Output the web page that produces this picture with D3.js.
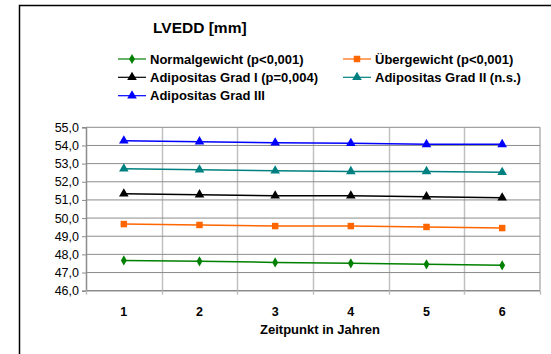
<!DOCTYPE html>
<html>
<head>
<meta charset="utf-8">
<script src="https://cdn.jsdelivr.net/npm/d3@7"></script>
<style>
  html, body { margin: 0; padding: 0; background: #fff; }
  svg { display: block; font-family: "Liberation Sans", Arial, sans-serif; }
</style>
</head>
<body>
<svg id="chart" width="551" height="354"></svg>
<script>
// Measurement points (years)
const categories = [1, 2, 3, 4, 5, 6];

// LVEDD means per BMI group
const normalgewicht   = [47.67, 47.62, 47.56, 47.51, 47.45, 47.40];
const uebergewicht    = [49.67, 49.62, 49.56, 49.56, 49.51, 49.45];
const adipositas1     = [51.34, 51.29, 51.23, 51.23, 51.18, 51.12];
const adipositas2     = [52.72, 52.66, 52.61, 52.57, 52.57, 52.52];
const adipositas3     = [54.26, 54.21, 54.15, 54.12, 54.06, 54.06];

const yTicks = [46, 47, 48, 49, 50, 51, 52, 53, 54, 55];

const series = [
  { name: "Normalgewicht (p<0,001)",      values: normalgewicht, color: "#008000", symbol: "diamond" },
  { name: "Übergewicht (p<0,001)",        values: uebergewicht,  color: "#ff6600", symbol: "square" },
  { name: "Adipositas Grad I (p=0,004)",  values: adipositas1,   color: "#000000", symbol: "triangle" },
  { name: "Adipositas Grad II (n.s.)",    values: adipositas2,   color: "#008080", symbol: "triangle" },
  { name: "Adipositas Grad III",          values: adipositas3,   color: "#0000ff", symbol: "triangle" }
];

const svg = d3.select("#chart");

// chart frame (open to the right and bottom)
svg.append("path")
  .attr("d", "M19.5,354 V5.5 H551")
  .attr("fill", "none")
  .attr("stroke", "#000")
  .attr("stroke-width", 1.5);

const plot = { left: 86, right: 540, top: 127.3, bottom: 290.7 };

const x = d3.scaleBand().domain(categories).range([plot.left, plot.right]);
const y = d3.scaleLinear().domain([46, 55]).range([plot.bottom, plot.top]);

// vertical gridlines at category boundaries
const bounds = categories.slice(1).map(c => x(c));
svg.append("g").selectAll("line").data(bounds).join("line")
  .attr("x1", d => Math.round(d) + 0.5).attr("x2", d => Math.round(d) + 0.5)
  .attr("y1", plot.top).attr("y2", plot.bottom)
  .attr("stroke", "#c0c0c0").attr("stroke-width", 1.5);

// horizontal gridlines
svg.append("g").selectAll("line").data(yTicks.slice(1)).join("line")
  .attr("x1", plot.left).attr("x2", plot.right)
  .attr("y1", d => y(d)).attr("y2", d => y(d))
  .attr("stroke", "#8c8c8c").attr("stroke-width", 1);

// right border of plot area
svg.append("line")
  .attr("x1", plot.right).attr("x2", plot.right)
  .attr("y1", plot.top).attr("y2", plot.bottom)
  .attr("stroke", "#8c8c8c").attr("stroke-width", 1);

// y axis
const yAxis = d3.axisLeft(y).tickValues(yTicks)
  .tickFormat(d => d3.format(".1f")(d).replace(".", ","))
  .tickSize(4).tickPadding(3);
const gy = svg.append("g").attr("transform", `translate(${plot.left},0)`).call(yAxis);
gy.select(".domain").attr("stroke", "#8c8c8c").attr("stroke-width", 1.5);
gy.selectAll(".tick line").attr("stroke", "#8c8c8c");
gy.selectAll("text").attr("font-size", 12.5).attr("fill", "#000")
  .attr("font-family", "Liberation Sans, Arial, sans-serif");

// x axis
const gx = svg.append("g").attr("transform", `translate(0,${plot.bottom})`);
gx.append("line")
  .attr("x1", plot.left).attr("x2", plot.right)
  .attr("stroke", "#8c8c8c").attr("stroke-width", 1.5);
gx.selectAll(".tk").data([plot.left, ...bounds, plot.right]).join("line")
  .attr("class", "tk")
  .attr("x1", d => Math.round(d) + 0.5).attr("x2", d => Math.round(d) + 0.5)
  .attr("y1", 0).attr("y2", 4)
  .attr("stroke", "#c0c0c0").attr("stroke-width", 1.5);
gx.selectAll("text").data(categories).join("text")
  .attr("x", d => x(d) + x.bandwidth() / 2)
  .attr("y", 25.5)
  .attr("text-anchor", "middle")
  .attr("font-size", 12.5).attr("font-weight", "bold")
  .text(d => d);

// axis title
svg.append("text")
  .attr("x", 320).attr("y", 334)
  .attr("text-anchor", "middle")
  .attr("font-size", 13).attr("font-weight", "bold")
  .text("Zeitpunkt in Jahren");

// chart title
svg.append("text")
  .attr("x", 153).attr("y", 33)
  .attr("font-size", 15.5).attr("font-weight", "bold")
  .text("LVEDD [mm]");

function symbolPath(kind) {
  if (kind === "diamond") return d3.symbol(d3.symbolDiamond, 30)();
  if (kind === "square") return d3.symbol(d3.symbolSquare, 42)();
  return d3.symbol(d3.symbolTriangle, 40)();
}

const line = d3.line()
  .x((d, i) => x(categories[i]) + x.bandwidth() / 2)
  .y(d => y(d));

// series lines and markers
series.forEach(s => {
  svg.append("path")
    .datum(s.values)
    .attr("d", line)
    .attr("fill", "none")
    .attr("stroke", s.color)
    .attr("stroke-width", 1.5);
  svg.append("g").selectAll("path").data(s.values).join("path")
    .attr("transform", (d, i) => `translate(${x(categories[i]) + x.bandwidth() / 2},${y(d)})`)
    .attr("d", symbolPath(s.symbol))
    .attr("fill", s.color);
});

// legend
const legendPos = [
  { x: 118, y: 59 }, { x: 343, y: 59 },
  { x: 118, y: 77.3 }, { x: 343, y: 77.3 },
  { x: 118, y: 95.7 }
];
series.forEach((s, i) => {
  const p = legendPos[i];
  const g = svg.append("g").attr("transform", `translate(${p.x},${p.y})`);
  g.append("line").attr("x1", 0).attr("x2", 28).attr("y1", 0).attr("y2", 0)
    .attr("stroke", s.color).attr("stroke-width", 1.2);
  g.append("path").attr("transform", "translate(14,0)")
    .attr("d", symbolPath(s.symbol)).attr("fill", s.color);
  g.append("text").attr("x", 32).attr("y", 4.5)
    .attr("font-size", 13).attr("font-weight", "bold")
    .text(s.name);
});
</script>
</body>
</html>
